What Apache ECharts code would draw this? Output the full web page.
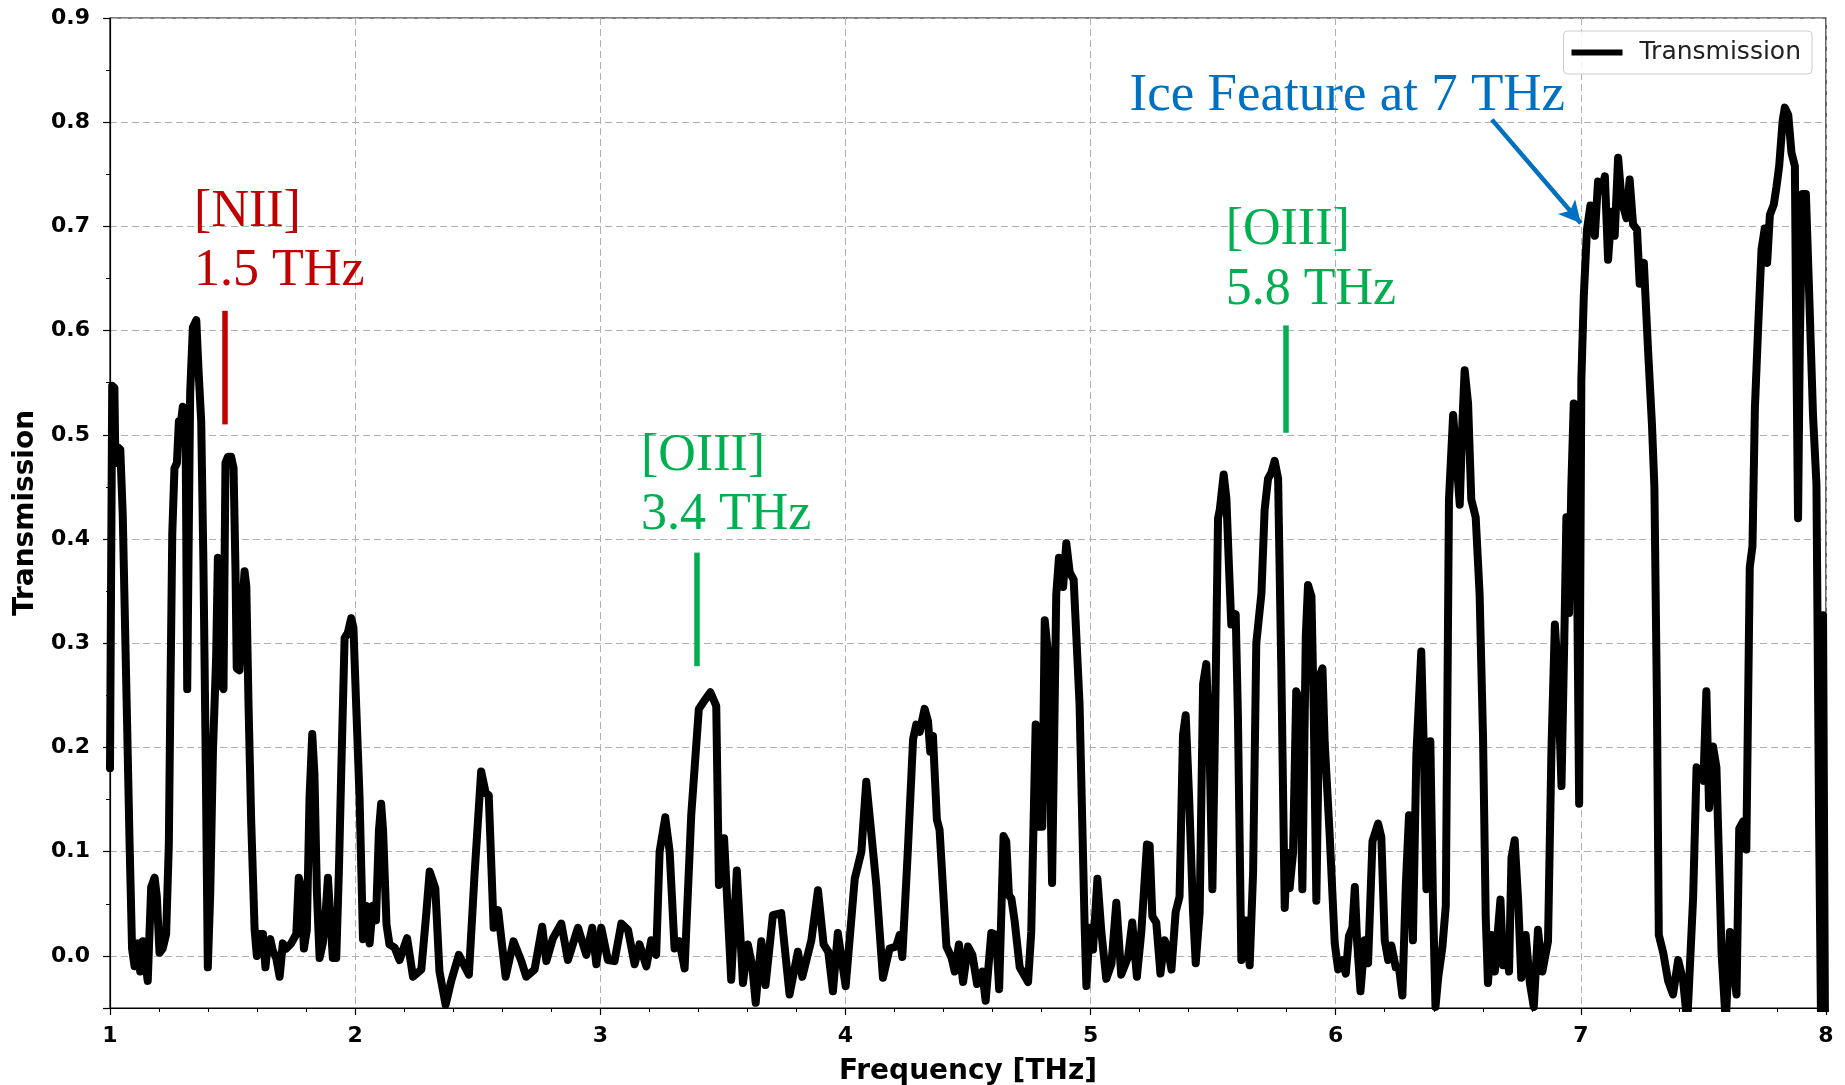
<!DOCTYPE html>
<html>
<head>
<meta charset="utf-8">
<script src="https://cdn.jsdelivr.net/npm/echarts@6/dist/echarts.min.js"></script>
<style>
html,body{margin:0;padding:0;background:#ffffff;}
#chart{width:1845px;height:1085px;}
</style>
</head>
<body>
<div id="chart"></div>
<script>
// ---- DATA ----
// Transmission curve: [frequency in THz, transmission]
const transmissionCurve = [
[1.000,0.18],[1.009,0.547],[1.018,0.545],[1.022,0.473],[1.032,0.488],[1.042,0.486],[1.052,0.423],[1.066,0.265],[1.080,0.107],[1.090,0.007],
[1.100,-0.010],[1.114,0.012],[1.123,-0.015],[1.134,0.014],[1.142,-0.002],[1.154,-0.024],[1.168,0.066],[1.182,0.075],[1.191,0.057],[1.202,0.003],
[1.215,0.007],[1.229,0.021],[1.240,0.107],[1.246,0.242],[1.254,0.405],[1.263,0.468],[1.273,0.473],[1.281,0.513],[1.290,0.513],[1.297,0.527],
[1.308,0.522],[1.315,0.256],[1.322,0.256],[1.327,0.540],[1.338,0.603],[1.352,0.610],[1.362,0.558],[1.372,0.513],[1.381,0.378],[1.390,0.197],
[1.399,-0.011],[1.409,0.061],[1.420,0.197],[1.433,0.287],[1.440,0.382],[1.450,0.378],[1.454,0.260],[1.463,0.256],[1.471,0.473],[1.481,0.479],
[1.494,0.479],[1.504,0.468],[1.512,0.369],[1.517,0.276],[1.528,0.274],[1.539,0.333],[1.549,0.369],[1.556,0.355],[1.565,0.242],[1.576,0.129],
[1.590,0.025],[1.599,0.000],[1.610,0.021],[1.624,0.021],[1.634,-0.011],[1.644,0.012],[1.654,0.016],[1.664,0.005],[1.678,-0.002],[1.692,-0.020],
[1.705,0.012],[1.719,0.007],[1.739,0.012],[1.760,0.021],[1.770,0.075],[1.780,0.066],[1.791,0.007],[1.803,0.025],[1.814,0.152],[1.825,0.213],
[1.834,0.174],[1.844,0.061],[1.855,-0.002],[1.868,0.012],[1.879,0.039],[1.889,0.075],[1.898,0.039],[1.909,-0.002],[1.923,-0.002],[1.934,0.084],
[1.943,0.174],[1.957,0.305],[1.970,0.310],[1.984,0.324],[1.993,0.315],[2.004,0.242],[2.018,0.152],[2.032,0.016],[2.045,0.048],[2.059,0.012],
[2.072,0.048],[2.085,0.034],[2.097,0.120],[2.106,0.146],[2.114,0.120],[2.128,0.030],[2.140,0.011],[2.161,0.008],[2.181,-0.004],[2.212,0.017],
[2.236,-0.020],[2.270,-0.013],[2.290,0.040],[2.304,0.081],[2.327,0.065],[2.344,-0.015],[2.369,-0.047],[2.392,-0.024],[2.423,0.001],[2.464,-0.018],
[2.487,0.078],[2.514,0.177],[2.532,0.157],[2.545,0.154],[2.565,0.027],[2.583,0.044],[2.614,-0.020],[2.646,0.014],[2.678,-0.005],[2.698,-0.020],
[2.732,-0.013],[2.763,0.028],[2.780,-0.005],[2.807,0.017],[2.841,0.031],[2.868,-0.004],[2.909,0.027],[2.943,0.001],[2.967,0.027],[2.984,-0.008],
[3.004,0.027],[3.031,-0.004],[3.058,-0.005],[3.086,0.031],[3.113,0.025],[3.140,-0.008],[3.160,0.011],[3.188,-0.010],[3.208,0.015],[3.228,0.001],
[3.242,0.100],[3.265,0.133],[3.283,0.100],[3.303,0.007],[3.323,0.014],[3.344,-0.012],[3.371,0.135],[3.402,0.237],[3.425,0.245],[3.449,0.253],
[3.473,0.240],[3.484,0.068],[3.492,0.070],[3.505,0.113],[3.511,0.113],[3.534,-0.023],[3.557,0.082],[3.582,-0.026],[3.602,0.011],[3.620,-0.010],
[3.634,-0.045],[3.657,0.014],[3.674,-0.028],[3.704,0.039],[3.738,0.041],[3.772,-0.037],[3.806,0.004],[3.824,-0.020],[3.861,0.015],[3.888,0.063],
[3.911,0.011],[3.930,0.004],[3.949,-0.034],[3.969,0.022],[4.001,-0.029],[4.038,0.074],[4.065,0.100],[4.085,0.167],[4.105,0.119],[4.126,0.068],
[4.153,-0.021],[4.180,0.007],[4.207,0.009],[4.221,0.020],[4.232,-0.001],[4.255,0.103],[4.276,0.208],[4.289,0.222],[4.303,0.215],[4.323,0.237],
[4.337,0.225],[4.346,0.196],[4.357,0.211],[4.373,0.131],[4.384,0.121],[4.412,0.009],[4.432,-0.001],[4.446,-0.015],[4.463,0.011],[4.480,-0.025],
[4.500,0.009],[4.518,0.001],[4.537,-0.027],[4.558,-0.015],[4.572,-0.043],[4.595,0.022],[4.615,0.020],[4.627,-0.032],[4.645,0.115],[4.656,0.110],
[4.667,0.058],[4.677,0.055],[4.690,0.034],[4.711,-0.011],[4.745,-0.025],[4.758,0.023],[4.776,0.222],[4.790,0.124],[4.803,0.124],[4.813,0.322],
[4.826,0.291],[4.843,0.070],[4.860,0.347],[4.871,0.382],[4.888,0.354],[4.901,0.396],[4.915,0.368],[4.931,0.361],[4.955,0.242],[4.976,0.027],
[4.983,-0.029],[4.996,0.027],[5.010,0.006],[5.028,0.074],[5.044,0.023],[5.064,-0.022],[5.085,-0.008],[5.105,0.051],[5.125,-0.018],[5.153,-0.001],
[5.170,0.032],[5.189,-0.020],[5.207,0.023],[5.230,0.107],[5.241,0.106],[5.252,0.038],[5.268,0.032],[5.285,-0.017],[5.302,0.015],[5.316,0.006],
[5.330,-0.013],[5.347,0.042],[5.363,0.057],[5.377,0.212],[5.388,0.231],[5.402,0.152],[5.418,0.042],[5.429,-0.007],[5.445,0.042],[5.459,0.261],
[5.472,0.280],[5.486,0.193],[5.497,0.064],[5.506,0.193],[5.520,0.420],[5.527,0.428],[5.543,0.462],[5.554,0.439],[5.565,0.371],[5.574,0.318],
[5.592,0.328],[5.601,0.231],[5.615,-0.004],[5.633,0.034],[5.649,-0.009],[5.663,0.080],[5.676,0.300],[5.697,0.348],[5.710,0.428],[5.724,0.458],
[5.738,0.464],[5.751,0.475],[5.765,0.458],[5.778,0.276],[5.792,0.046],[5.801,0.099],[5.812,0.065],[5.826,0.099],[5.839,0.254],[5.850,0.246],
[5.864,0.064],[5.878,0.307],[5.887,0.356],[5.901,0.345],[5.910,0.239],[5.921,0.053],[5.935,0.269],[5.946,0.276],[5.955,0.205],[5.975,0.118],
[5.996,0.012],[6.010,-0.013],[6.027,-0.004],[6.041,-0.017],[6.054,0.019],[6.068,0.027],[6.078,0.066],[6.087,0.015],[6.101,-0.034],[6.118,0.015],
[6.132,-0.007],[6.150,0.110],[6.173,0.127],[6.186,0.114],[6.200,0.015],[6.214,-0.004],[6.227,0.010],[6.245,-0.011],[6.258,-0.011],[6.272,-0.038],
[6.286,0.068],[6.299,0.135],[6.315,0.015],[6.329,0.193],[6.349,0.292],[6.360,0.193],[6.370,0.064],[6.386,0.206],[6.396,0.061],[6.407,-0.049],
[6.418,-0.021],[6.435,0.008],[6.449,0.048],[6.462,0.438],[6.479,0.519],[6.492,0.479],[6.506,0.433],[6.517,0.513],[6.526,0.562],[6.540,0.530],
[6.553,0.438],[6.571,0.421],[6.587,0.347],[6.601,0.209],[6.612,0.037],[6.621,-0.026],[6.635,0.020],[6.649,-0.015],[6.662,0.025],[6.672,0.054],
[6.683,-0.009],[6.696,0.014],[6.707,-0.015],[6.717,0.094],[6.730,0.111],[6.744,0.054],[6.757,-0.021],[6.775,0.020],[6.792,-0.026],[6.808,-0.049],
[6.825,0.025],[6.843,-0.015],[6.866,0.014],[6.880,0.197],[6.894,0.318],[6.907,0.266],[6.921,0.163],[6.934,0.324],[6.941,0.421],[6.952,0.329],
[6.961,0.450],[6.971,0.530],[6.982,0.438],[6.993,0.146],[7.002,0.553],[7.012,0.633],[7.025,0.697],[7.039,0.720],[7.057,0.691],[7.070,0.743],
[7.084,0.734],[7.098,0.748],[7.111,0.668],[7.125,0.714],[7.138,0.691],[7.152,0.766],[7.166,0.725],[7.186,0.708],[7.199,0.745],[7.213,0.702],
[7.229,0.697],[7.240,0.645],[7.257,0.665],[7.274,0.582],[7.290,0.510],[7.300,0.450],[7.310,0.250],[7.318,0.020],[7.336,0.003],[7.356,-0.024],
[7.376,-0.037],[7.397,-0.004],[7.417,-0.024],[7.434,-0.064],[7.458,0.056],[7.472,0.181],[7.488,0.175],[7.500,0.168],[7.512,0.254],[7.523,0.142],
[7.539,0.201],[7.553,0.181],[7.574,0.003],[7.591,-0.064],[7.608,0.023],[7.621,-0.010],[7.635,-0.037],[7.646,0.122],[7.662,0.129],[7.675,0.102],
[7.689,0.373],[7.700,0.393],[7.710,0.526],[7.723,0.602],[7.737,0.678],[7.750,0.698],[7.760,0.665],[7.771,0.711],[7.787,0.721],[7.798,0.738],
[7.809,0.758],[7.823,0.801],[7.832,0.814],[7.846,0.807],[7.859,0.771],[7.873,0.758],[7.879,0.585],[7.886,0.420],[7.893,0.585],[7.904,0.731],
[7.918,0.731],[7.931,0.638],[7.947,0.519],[7.961,0.453],[7.972,0.122],[7.980,-0.070],[7.988,0.327],[7.996,-0.070]
];

const seriesName = 'Transmission';
const xLabel = 'Frequency [THz]';
const yLabel = 'Transmission';
const xRange = [1, 8];
const yRange = [-0.05, 0.9];

// Vertical line markers for spectral lines (freq THz, from, to)
const lineMarkers = [
  {freq: 1.47, from: 0.510, to: 0.619, color: '#C00000'},
  {freq: 3.395, from: 0.278, to: 0.387, color: '#00B050'},
  {freq: 5.797, from: 0.502, to: 0.605, color: '#00B050'}
];
// Annotation texts: left x (THz) and baseline (transmission units)
const annotationTexts = [
  {text: '[NII]',   x: 1.343, baseline: 0.697, color: '#C00000', size: 52},
  {text: '1.5 THz', x: 1.343, baseline: 0.640, color: '#C00000', size: 52},
  {text: '[OIII]',  x: 3.166, baseline: 0.463, color: '#00B050', size: 52},
  {text: '3.4 THz', x: 3.166, baseline: 0.406, color: '#00B050', size: 52},
  {text: '[OIII]',  x: 5.551, baseline: 0.679, color: '#00B050', size: 52},
  {text: '5.8 THz', x: 5.551, baseline: 0.622, color: '#00B050', size: 52},
  {text: 'Ice Feature at 7 THz', x: 5.159, baseline: 0.808, color: '#0070C0', size: 53}
];
// Arrow from the ice label to the feature
const iceArrow = {from: [6.637, 0.8025], to: [7.0, 0.703], color: '#0070C0'};

// ---- CHART ----
const chart = echarts.init(document.getElementById('chart'), null, {renderer: 'canvas'});
const tickFont = 'DejaVu Sans';
const gridLine = {show: true, lineStyle: {color: '#b0b0b0', width: 1, type: [7, 4]}};

const markLineData = lineMarkers.map(m => [
  {coord: [m.freq, m.from], symbol: 'none', lineStyle: {color: m.color, width: 5.5, type: 'solid'}},
  {coord: [m.freq, m.to], symbol: 'none'}
]);
markLineData.push([
  {coord: iceArrow.from, symbol: 'none', lineStyle: {color: iceArrow.color, width: 4.5, type: 'solid'}},
  {coord: iceArrow.to, symbol: 'arrow', symbolSize: [17, 22]}
]);

const option = {
  backgroundColor: '#ffffff',
  animation: false,
  grid: {left: 110, right: 19, top: 18, bottom: 77, show: true, borderColor: '#000', borderWidth: 1.2,
         backgroundColor: 'transparent', containLabel: false, outerBoundsMode: 'none'},
  legend: {
    show: true, right: 33, top: 31,
    padding: [9, 11, 9, 8],
    borderColor: '#cccccc', borderWidth: 1, borderRadius: 4,
    backgroundColor: 'rgba(255,255,255,0.85)',
    itemWidth: 51, itemHeight: 6, icon: 'rect',
    textStyle: {fontFamily: tickFont, fontSize: 25, color: '#222', padding: [0, 0, 0, 12]},
    data: [seriesName]
  },
  xAxis: {
    type: 'value', min: xRange[0], max: xRange[1], interval: 1,
    name: xLabel, nameLocation: 'middle', nameGap: 50,
    nameTextStyle: {fontFamily: tickFont, fontWeight: 'bold', fontSize: 28, color: '#000'},
    axisLine: {show: true, onZero: false, lineStyle: {color: '#000', width: 1.2}},
    axisTick: {show: true, inside: false, length: 7, lineStyle: {color: '#000', width: 1.2}},
    minorTick: {show: true, splitNumber: 5, length: 4, lineStyle: {color: '#000', width: 1}},
    axisLabel: {margin: 17, fontFamily: tickFont, fontWeight: 'bold', fontSize: 22, color: '#000',
                formatter: v => String(Math.round(v))},
    splitLine: gridLine
  },
  yAxis: {
    type: 'value', min: yRange[0], max: yRange[1], splitNumber: 10, minInterval: 0.1, maxInterval: 0.1,
    name: yLabel, nameLocation: 'middle', nameGap: 70,
    nameTextStyle: {fontFamily: tickFont, fontWeight: 'bold', fontSize: 28, color: '#000'},
    axisLine: {show: true, onZero: false, lineStyle: {color: '#000', width: 1.2}},
    axisTick: {show: true, inside: false, length: 7, lineStyle: {color: '#000', width: 1.2}},
    minorTick: {show: true, splitNumber: 2, length: 4, lineStyle: {color: '#000', width: 1}},
    axisLabel: {margin: 20, fontFamily: tickFont, fontWeight: 'bold', fontSize: 22, color: '#000',
                formatter: v => (Math.abs(v * 10 - Math.round(v * 10)) < 1e-6 ? v.toFixed(1) : '')},
    splitLine: gridLine
  },
  series: [{
    name: seriesName, type: 'line', data: transmissionCurve,
    showSymbol: false, symbol: 'none', smooth: false, clip: true,
    lineStyle: {color: '#000', width: 8, cap: 'round', join: 'round'},
    itemStyle: {color: '#000'},
    emphasis: {disabled: true},
    markLine: {silent: true, animation: false, label: {show: false}, emphasis: {disabled: true},
               symbol: ['none', 'none'], data: markLineData},
    z: 2
  }]
};
chart.setOption(option);

function placeTexts() {
  const els = annotationTexts.map(a => {
    const p = chart.convertToPixel({gridIndex: 0}, [a.x, a.baseline]);
    return {
      type: 'text', x: p[0], y: p[1] - 0.3375 * a.size, silent: true, z: 10,
      style: {text: a.text, fill: a.color, font: a.size + 'px "Liberation Serif", "Times New Roman", serif',
              textAlign: 'left', textVerticalAlign: 'middle'}
    };
  });
  chart.setOption({graphic: {elements: els}});
}
placeTexts();
</script>
</body>
</html>
